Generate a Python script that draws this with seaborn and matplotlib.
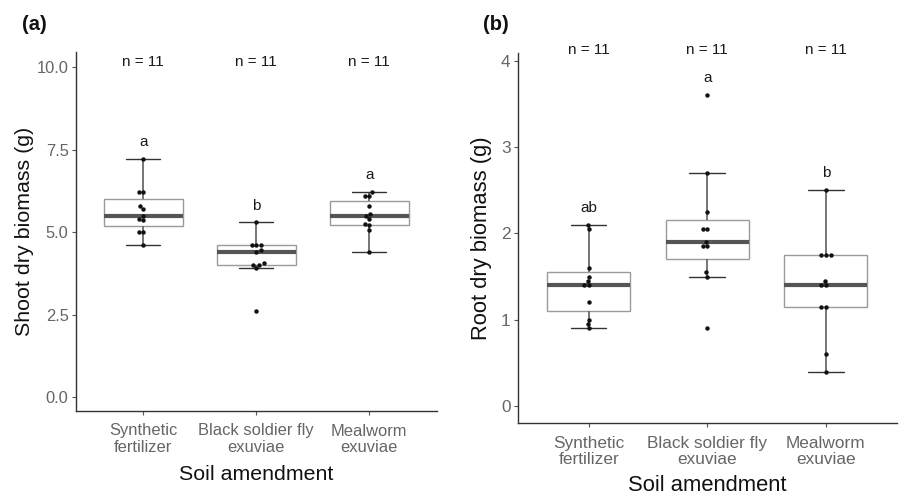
import matplotlib
matplotlib.use("Agg")
import matplotlib.pyplot as plt
import seaborn as sns
import pandas as pd
import numpy as np

# ---- data ----
categories = ["Synthetic\nfertilizer", "Black soldier fly\nexuviae", "Mealworm\nexuviae"]

shoot_synthetic = [4.6, 5.0, 5.0, 5.35, 5.4, 5.5, 5.7, 5.8, 6.2, 6.2, 7.2]
shoot_bsf = [2.6, 3.9, 4.0, 4.0, 4.05, 4.4, 4.45, 4.6, 4.6, 4.6, 5.3]
shoot_mealworm = [4.4, 5.05, 5.2, 5.25, 5.4, 5.5, 5.55, 5.8, 6.1, 6.1, 6.2]

root_synthetic = [0.9, 0.95, 1.0, 1.2, 1.4, 1.4, 1.45, 1.5, 1.6, 2.05, 2.1]
root_bsf = [0.9, 1.5, 1.55, 1.85, 1.85, 1.9, 2.05, 2.05, 2.25, 2.7, 3.6]
root_mealworm = [0.4, 0.6, 1.15, 1.15, 1.4, 1.4, 1.45, 1.75, 1.75, 1.75, 2.5]

n_labels = ["n = 11", "n = 11", "n = 11"]
shoot_letters = ["a", "b", "a"]
shoot_letter_y = [7.72, 5.8, 6.72]
root_letters = ["ab", "a", "b"]
root_letter_y = [2.29, 3.8, 2.70]

shoot_yticks = [0.0, 2.5, 5.0, 7.5, 10.0]
root_yticks = [0, 1, 2, 3, 4]


def make_df(a, b, c):
    return pd.DataFrame({
        "amend": [categories[0]] * len(a) + [categories[1]] * len(b) + [categories[2]] * len(c),
        "value": list(a) + list(b) + list(c),
    })


shoot_df = make_df(shoot_synthetic, shoot_bsf, shoot_mealworm)
root_df = make_df(root_synthetic, root_bsf, root_mealworm)

sns.set_theme(style="white")
plt.rcParams["font.family"] = ["Liberation Sans", "DejaVu Sans"]

fig = plt.figure(figsize=(8.99, 4.96), dpi=100)
W, H = 899, 496


def ax_rect(l, r, t, b):
    return [l / W, 1 - b / H, (r - l) / W, (b - t) / H]


ax_a = fig.add_axes(ax_rect(75.5, 437, 52, 411))
ax_b = fig.add_axes(ax_rect(517.5, 897, 53.3, 423.3))

TICK_GREY = "#666666"


def draw(ax, df, ylim, yticks, yfmt, ylabel, letters, letter_y, n_y, tick_fs, lab_fs,
         ylabelpad, xlabelpad, xpad, xls):
    sns.boxplot(
        data=df, x="amend", y="value", order=categories, ax=ax,
        width=0.7, showfliers=False, color="white", linecolor="#9a9a9a", linewidth=1.0,
        medianprops=dict(color="#555555", linewidth=3.0),
        whiskerprops=dict(color="#6a6a6a", linewidth=1.3),
        capprops=dict(color="#333333", linewidth=1.0),
        capwidths=0.3,
    )
    sns.swarmplot(data=df, x="amend", y="value", order=categories, ax=ax,
                  color="#111111", size=3.2, linewidth=0)
    for i, (lt, ly) in enumerate(zip(letters, letter_y)):
        ax.text(i, ly, lt, ha="center", va="center", fontsize=11, color="#1a1a1a")
    for i, nl in enumerate(n_labels):
        ax.text(i, n_y, nl, ha="center", va="center", fontsize=11, color="#1a1a1a")
    ax.set_xlim(-0.6, 2.6)
    ax.set_ylim(*ylim)
    ax.set_yticks(yticks)
    ax.set_yticklabels([yfmt.format(v) for v in yticks])
    for s in ["top", "right"]:
        ax.spines[s].set_visible(False)
    for s in ["left", "bottom"]:
        ax.spines[s].set_color("#333333")
        ax.spines[s].set_linewidth(1.0)
    ax.tick_params(axis="both", length=3, width=0.8, color="#555555",
                   labelcolor=TICK_GREY, labelsize=tick_fs, pad=2, left=True, bottom=True)
    ax.tick_params(axis="x", pad=xpad)
    for t in ax.get_xticklabels():
        t.set_linespacing(xls)
    ax.set_xlabel("Soil amendment", fontsize=lab_fs, color="#111111", labelpad=xlabelpad)
    ax.set_ylabel(ylabel, fontsize=lab_fs, color="#111111", labelpad=ylabelpad)


draw(ax_a, shoot_df, (-0.424, 10.455), shoot_yticks, "{:.1f}", "Shoot dry biomass (g)",
     shoot_letters, shoot_letter_y, 10.15, 11.9, 15.4, 2, 7, 6, 1.12)
draw(ax_b, root_df, (-0.2, 4.086), root_yticks, "{:d}", "Root dry biomass (g)",
     root_letters, root_letter_y, 4.12, 12.4, 15.8, 6, 5.5, 6, 1.12)

fig.text(22 / W, 1 - 25 / H, "(a)", fontsize=14.5, fontweight="bold", ha="left", va="center", color="#111111")
fig.text(483 / W, 1 - 25 / H, "(b)", fontsize=14.5, fontweight="bold", ha="left", va="center", color="#111111")

fig.savefig("out.png", dpi=100, facecolor="white")
